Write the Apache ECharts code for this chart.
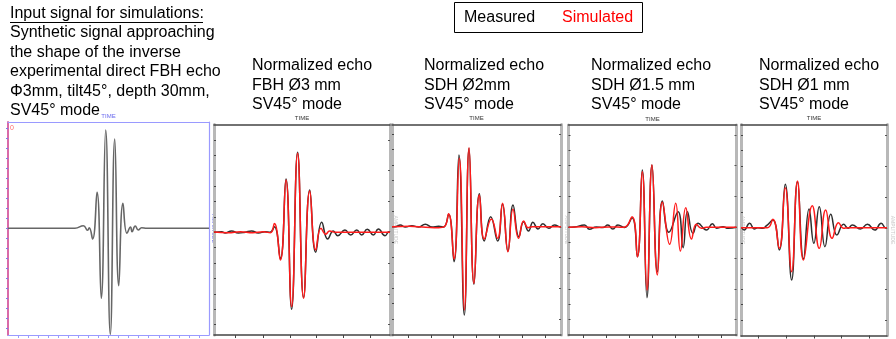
<!DOCTYPE html>
<html>
<head>
<meta charset="utf-8">
<script src="https://cdn.jsdelivr.net/npm/echarts@6/dist/echarts.min.js"></script>
<style>
  html, body { margin: 0; padding: 0; background: #fff; }
  #chart { width: 896px; height: 339px; }
</style>
</head>
<body>
<div id="chart"></div>
<script>
// Time: 0–100 % of each acquisition window. Amplitude: normalized echo.
const inputSignal = [[0,0],[33.3,0],[37.5,0.026],[39.6,-0.02],[40.4,0.006],[42.1,-0.107],[44.3,0.36],[46.4,-0.70],[48.6,0.983],[50.9,-1.06],[53.1,0.893],[55.1,-0.574],[57.2,0.25],[59.2,-0.05],[61.0,0.013],[61.7,-0.034],[63.3,0.023],[64.8,-0.017],[66.5,0.006],[69,0],[100,0]];

const fbh3Measured = [[0,0],[4.4,0.006],[6.3,-0.007],[10.0,0.013],[13.8,-0.007],[17.6,0],[21.4,0.013],[25.2,-0.007],[29.0,0.006],[31.8,0],[34.3,0.056],[37.7,-0.267],[40.9,0.533],[44.1,-0.77],[47.5,0.80],[50.9,-0.654],[54.4,0.423],[57.8,-0.20],[61.2,0.10],[64.6,-0.067],[67.8,0.013],[70.3,-0.034],[74.4,0.023],[77.7,-0.027],[81.1,0.023],[83.9,-0.027],[87.1,0.03],[90.5,-0.027],[93.4,0.033],[97.2,-0.034],[99.4,0.006],[100,0]];
const fbh3Simulated = [[0,0.003],[8,-0.005],[15,0.006],[22,-0.004],[28,0.005],[32,-0.005],[34.3,0.087],[37.7,-0.277],[40.9,0.523],[44.1,-0.743],[47.5,0.79],[50.9,-0.66],[54.4,0.413],[57.8,-0.177],[60.8,0.04],[63.5,-0.019],[65.7,0.013],[69,0],[100,0]];

const sdh2Measured = [[0,0],[2.0,0],[4.9,0.017],[7.9,-0.003],[11.8,0.01],[15.7,-0.003],[19.7,0.024],[23.7,-0.003],[27.6,0.004],[30.5,-0.003],[33.5,0.124],[36.7,-0.35],[39.6,0.717],[42.8,-0.883],[45.6,0.784],[48.5,-0.576],[51.7,0.33],[54.6,-0.143],[58.4,0.10],[62.5,-0.143],[65.4,0.224],[68.6,-0.243],[71.6,0.217],[75.1,-0.10],[77.9,0.05],[80.8,-0.043],[83.4,0.044],[86.4,-0.023],[89.3,0.03],[92.7,-0.016],[96.2,0.017],[99.6,-0.003],[100,0]];
const sdh2Simulated = [[0,0],[10,0.005],[20,-0.005],[27.6,-0.01],[31,0],[33.5,0.13],[36.7,-0.323],[39.8,0.684],[42.8,-0.833],[45.6,0.79],[48.5,-0.566],[51.7,0.317],[54.6,-0.123],[58.8,0.077],[62.5,-0.116],[65.4,0.234],[68.6,-0.25],[71.6,0.174],[74.9,-0.116],[77.9,0.057],[80.5,-0.01],[83,0],[100,0]];

const sdh15Measured = [[0,0],[3.6,0.003],[9.5,0.023],[12.5,-0.02],[16.5,0.003],[20.5,-0.003],[23.4,0.023],[26.4,-0.017],[29.4,0.023],[33.4,-0.003],[37.8,0.096],[41.0,-0.294],[43.9,0.573],[46.7,-0.704],[49.7,0.623],[52.9,-0.444],[55.9,0.263],[59.8,-0.05],[65.2,0.156],[68.2,-0.204],[70.8,0.156],[74.1,-0.06],[77.1,0.04],[82.1,-0.027],[85.7,0.036],[88.1,-0.01],[92.0,0.006],[95,-0.01],[100,0]];
const sdh15Simulated = [[0,0],[8,0.005],[16,-0.004],[24,0.004],[33,0],[37.8,0.106],[41.0,-0.294],[43.9,0.556],[46.7,-0.627],[49.7,0.623],[52.9,-0.477],[55.9,0.25],[60.2,-0.17],[63.8,0.24],[66.6,-0.237],[69.8,0.196],[73.2,-0.117],[76.1,0.03],[79.1,-0.01],[82,0],[100,0]];

const sdh1Measured = [[0.4,0],[2.2,-0.023],[5.9,0.044],[9.2,-0.013],[11.4,0],[14.7,-0.006],[17.5,0.02],[21.8,0.077],[26.2,-0.223],[30.3,0.434],[34.7,-0.523],[38.7,0.46],[42.8,-0.313],[46.6,0.187],[49.9,-0.156],[53.6,0.21],[57.5,-0.19],[61.5,0.134],[65.7,-0.073],[70.3,0.034],[73.4,-0.006],[76.3,0.027],[81.7,-0.013],[86.6,0.034],[91.6,-0.023],[96.0,0.044],[99.3,-0.006],[100,0]];
const sdh1Simulated = [[0,0],[18,0],[21.8,0.084],[26.2,-0.206],[30.3,0.40],[34.7,-0.44],[38.7,0.467],[42.8,-0.323],[48.8,0.22],[53.6,-0.206],[58.0,0.177],[62.4,-0.106],[66.8,0.05],[70.3,-0.006],[73,0],[100,0]];

// Tick positions
const inputTimeTicks = [5,10,15,20,25,30,35,40,45,50,55,60,65,70,75,80,85,90,95];
const inputAmpTicks = [-1,-0.9,-0.8,-0.7,-0.6,-0.5,-0.4,-0.3,-0.2,-0.1,0,0.1,0.2,0.3,0.4,0.5,0.6,0.7,0.8,0.9,1];
const echoTimeTicks = [
  [12.3,27.7,43.2,58.3,73.5,89.0],
  [9.5,23.1,36.5,50.1,63.7,77.3,90.9],
  [8.9,22.5,36.0,49.9,63.6,77.1,91.1],
  [11.9,30.8,49.9,68.6,87.9]
];
const ampTicksFine = [-0.924,-0.77,-0.616,-0.462,-0.308,-0.154,0,0.154,0.308,0.462,0.616,0.77,0.924];
const ampTicksCoarse = [-0.924,-0.616,-0.308,0,0.308,0.616,0.924];

// Text
const introLines = ['Input signal for simulations:', 'Synthetic signal approaching', 'the shape of the inverse', 'experimental direct FBH echo', 'Φ3mm, tilt45°, depth 30mm,', 'SV45° mode'];
const panelTitles = [
  ['Normalized echo', 'FBH Ø3 mm', 'SV45° mode'],
  ['Normalized echo', 'SDH Ø2mm', 'SV45° mode'],
  ['Normalized echo', 'SDH Ø1.5 mm', 'SV45° mode'],
  ['Normalized echo', 'SDH Ø1 mm', 'SV45° mode']
];
const legendNames = ['Measured', 'Simulated'];

const echoSeries = [
  [fbh3Measured, fbh3Simulated],
  [sdh2Measured, sdh2Simulated],
  [sdh15Measured, sdh15Simulated],
  [sdh1Measured, sdh1Simulated]
];

// Layout of the five oscillogram panels
const inputPanel = { left: 8, top: 122, width: 201, height: 213, yMin: -1.067, yMax: 1.063 };
const echoPanels = [
  { left: 214, top: 124.5, width: 176, height: 210.5, yMin: -1.027, yMax: 1.078 },
  { left: 392, top: 124.5, width: 169, height: 210.5, yMin: -1.083, yMax: 1.022 },
  { left: 568.5, top: 125, width: 168, height: 210, yMin: -1.077, yMax: 1.023 },
  { left: 741, top: 124.5, width: 152, height: 211, yMin: -1.078, yMax: 1.032 }
];
const titleX = [252, 424, 591, 759];

const FONT = '"Liberation Sans", Arial, sans-serif';
const grid = [], xAxis = [], yAxis = [], series = [], graphic = [];
const noLabels = { axisLabel: { show: false }, splitLine: { show: false } };

// --- input signal panel ---
grid.push({ left: inputPanel.left, top: inputPanel.top, width: inputPanel.width, height: inputPanel.height, show: false });
const BLUE = '#9a9aff';
xAxis.push({ gridIndex: 0, type: 'value', min: 0, max: 100, position: 'bottom', ...noLabels,
  axisLine: { onZero: false, lineStyle: { color: BLUE, width: 1.2 } },
  axisTick: { show: true, customValues: inputTimeTicks, length: 3, lineStyle: { color: BLUE } } });
xAxis.push({ gridIndex: 0, type: 'value', min: 0, max: 100, position: 'top', ...noLabels,
  axisLine: { onZero: false, lineStyle: { color: BLUE, width: 1.2 } }, axisTick: { show: false },
  name: 'TIME', nameLocation: 'middle', nameGap: 3, nameTextStyle: { fontSize: 6, color: '#6a6aee', fontFamily: FONT } });
yAxis.push({ gridIndex: 0, type: 'value', min: inputPanel.yMin, max: inputPanel.yMax, position: 'left', ...noLabels,
  axisLine: { onZero: false, lineStyle: { color: '#d96aa8', width: 2 } },
  axisTick: { show: true, customValues: inputAmpTicks, length: 2, lineStyle: { color: '#7a7ae8' } } });
yAxis.push({ gridIndex: 0, type: 'value', min: inputPanel.yMin, max: inputPanel.yMax, position: 'right', ...noLabels,
  axisLine: { onZero: false, lineStyle: { color: BLUE, width: 1.2 } }, axisTick: { show: false },
  name: 'AMPLITUDE', nameLocation: 'middle', nameGap: 2, nameRotate: -90, nameTextStyle: { fontSize: 5, color: '#6a6aee', fontFamily: FONT } });
series.push({ type: 'line', xAxisIndex: 0, yAxisIndex: 0, data: inputSignal, smooth: 0.5, showSymbol: false,
  lineStyle: { color: '#666666', width: 1.6 } });
graphic.push({ type: 'text', x: 10, y: 125, style: { text: '0', font: '7px ' + FONT, fill: '#ff6a6a' } });

// --- echo panels ---
echoPanels.forEach((p, i) => {
  const g = i + 1;
  grid.push({ left: p.left, top: p.top, width: p.width, height: p.height, show: false });
  const xb = xAxis.length;
  xAxis.push({ gridIndex: g, type: 'value', min: 0, max: 100, position: 'bottom', ...noLabels,
    axisLine: { onZero: false, lineStyle: { color: '#444', width: 1.5 } },
    axisTick: { show: true, customValues: echoTimeTicks[i], length: 3, lineStyle: { color: '#444' } } });
  xAxis.push({ gridIndex: g, type: 'value', min: 0, max: 100, position: 'top', ...noLabels,
    axisLine: { onZero: false, lineStyle: { color: '#444', width: 1.5 } }, axisTick: { show: false },
    name: 'TIME', nameLocation: 'middle', nameGap: 3, nameTextStyle: { fontSize: 6, color: '#333', fontFamily: FONT } });
  const yl = yAxis.length;
  yAxis.push({ gridIndex: g, type: 'value', min: p.yMin, max: p.yMax, position: 'left', ...noLabels,
    axisLine: { onZero: false, lineStyle: { color: '#b8b8b8', width: 3 } },
    axisTick: { show: true, inside: true, customValues: ampTicksFine, length: 2, lineStyle: { color: '#444' } } });
  yAxis.push({ gridIndex: g, type: 'value', min: p.yMin, max: p.yMax, position: 'right', ...noLabels,
    axisLine: { onZero: false, lineStyle: { color: '#b8b8b8', width: 3 } },
    axisTick: { show: true, inside: true, customValues: ampTicksCoarse, length: 2, lineStyle: { color: '#555' } },
    name: 'AMPLITUDE', nameLocation: 'middle', nameGap: 3, nameRotate: -90, nameTextStyle: { fontSize: 5, color: '#c8c8c8', fontFamily: FONT } });
  const [meas, sim] = echoSeries[i];
  series.push({ name: legendNames[0], type: 'line', xAxisIndex: xb, yAxisIndex: yl, data: meas, smooth: 0.5, showSymbol: false,
    lineStyle: { color: '#2e2e2e', width: 1.5 } });
  series.push({ name: legendNames[1], type: 'line', xAxisIndex: xb, yAxisIndex: yl, data: sim, smooth: 0.5, showSymbol: false,
    lineStyle: { color: '#ff1a1a', width: 1.5 } });

  panelTitles[i].forEach((line, k) => {
    graphic.push({ type: 'text', x: titleX[i], y: 65.5 + k * 19.6,
      style: { text: line, font: '16px ' + FONT, fill: '#000', verticalAlign: 'middle' } });
  });
});

// --- description at top left ---
introLines.forEach((line, k) => {
  graphic.push({ type: 'text', x: 10, y: 13.5 + k * 19.4,
    style: { text: line, font: '16px ' + FONT, fill: '#000', verticalAlign: 'middle' } });
});
graphic.push({ type: 'line', shape: { x1: 10, y1: 22.5, x2: 203, y2: 22.5 }, style: { stroke: '#000', lineWidth: 1 } });

// --- legend box ---
graphic.push({ type: 'rect', shape: { x: 454.5, y: 2.5, width: 188, height: 30 }, style: { fill: '#fff', stroke: '#000', lineWidth: 1 } });
graphic.push({ type: 'text', x: 464, y: 17.5, style: { text: legendNames[0], font: '16px ' + FONT, fill: '#000', verticalAlign: 'middle' } });
graphic.push({ type: 'text', x: 562, y: 17.5, style: { text: legendNames[1], font: '16px ' + FONT, fill: '#ff0000', verticalAlign: 'middle' } });

const chart = echarts.init(document.getElementById('chart'), null, { renderer: 'canvas' });
chart.setOption({
  animation: false,
  backgroundColor: '#fff',
  grid, xAxis, yAxis, series, graphic
});
</script>
</body>
</html>
